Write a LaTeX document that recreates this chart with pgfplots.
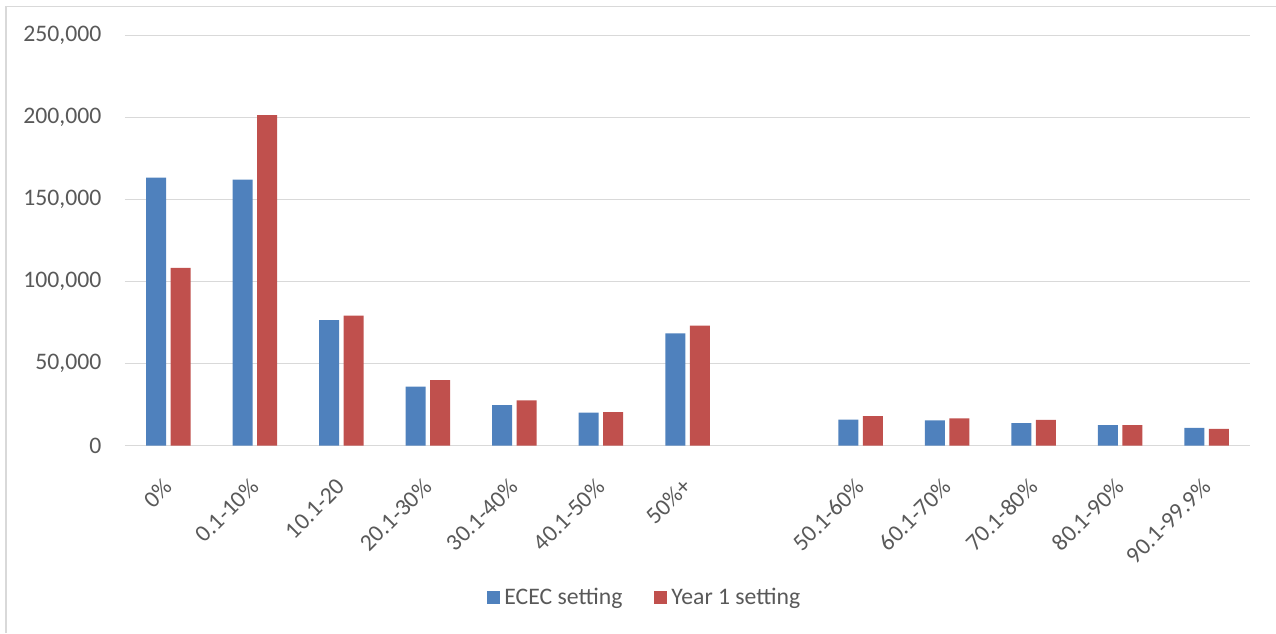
\documentclass[border=0pt]{standalone}
\usepackage{fontspec}
\setmainfont{Carlito}
\usepackage{pgfplots}
\pgfplotsset{compat=1.18}
\definecolor{ecec}{HTML}{4F81BD}
\definecolor{yone}{HTML}{C0504D}
\definecolor{txt}{HTML}{595959}
\definecolor{gridc}{HTML}{D9D9D9}
\begin{document}
\begin{tikzpicture}
\useasboundingbox (-62.5pt,-93.65pt) rectangle (575.5pt,222.85pt);
\draw[gridc, line width=0.75pt] (-59.5pt,-93.65pt) -- (-59.5pt,219.6pt) -- (575.5pt,219.6pt);
\begin{axis}[
  at={(0pt,0pt)}, anchor=south west,
  scale only axis, width=562.5pt, height=205pt,
  ybar=2.25pt, bar width=10pt,
  xmin=-0.5, xmax=12.5, ymin=0, ymax=250000,
  xtick={0,1,2,3,4,5,6,8,9,10,11,12},
  xticklabels={0\%,0.1-10\%,10.1-20,20.1-30\%,30.1-40\%,40.1-50\%,50\%+,50.1-60\%,60.1-70\%,70.1-80\%,80.1-90\%,90.1-99.9\%},
  ytick={0,50000,100000,150000,200000,250000},
  yticklabels={0,{50,000},{100,000},{150,000},{200,000},{250,000}},
  scaled y ticks=false,
  axis line style={draw=none},
  major tick length=0pt,
  tick style={draw=none},
  ymajorgrids,
  grid style={gridc, line width=0.75pt},
  ticklabel style={font=\fontsize{11.85}{14}\selectfont, text=txt, inner sep=0pt},
  xticklabel style={rotate=45, anchor=east},
  xticklabel shift=18.5pt,
  yticklabel shift=11.65pt,
  legend style={at={(axis description cs:0.463,-0.371)}, anchor=center, draw=none,
    font=\fontsize{11.85}{14}\selectfont, text=txt, legend columns=2,
    /tikz/every even column/.append style={column sep=14pt}},
  legend image code/.code={\fill[#1] (0pt,-3.25pt) rectangle (6.5pt,3.25pt);},
]
\addplot[fill=ecec, draw=none] coordinates {
 (0,163400) (1,162200) (2,76600) (3,36000) (4,24800) (5,20100) (6,68500)
 (8,15900) (9,15500) (10,13700) (11,12600) (12,10800)};
\addplot[fill=yone, draw=none] coordinates {
 (0,108500) (1,201600) (2,79300) (3,40000) (4,27700) (5,20500) (6,73200)
 (8,18100) (9,16700) (10,15700) (11,12600) (12,10200)};
\legend{ECEC setting, Year 1 setting}
\end{axis}
\end{tikzpicture}
\end{document}
